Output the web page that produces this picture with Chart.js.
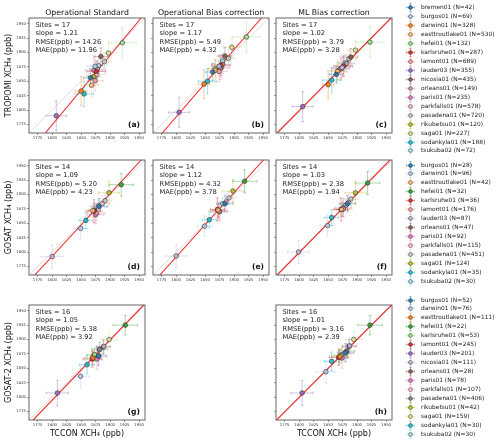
<!DOCTYPE html>
<html>
<head>
<meta charset="utf-8">
<script src="https://cdn.jsdelivr.net/npm/chart.js@4.4.1/dist/chart.umd.min.js"></script>
<style>
  body { margin: 0; background: #fff; width: 500px; height: 444px; overflow: hidden; position: relative; font-family: "DejaVu Sans", sans-serif; }
  canvas.panel { position: absolute; }
  .leg { position: absolute; left: 404px; top: 0; font-size: 5.9px; color: #222; white-space: nowrap; }
  .leg div { position: absolute; left: 0; height: 9px; line-height: 9px; }
  .leg svg { position: absolute; left: 0; top: 0; }
  .leg span { position: absolute; left: 17px; top: 0; }
</style>
</head>
<body>
<div id="root"></div>
<script>
// axis ticks (ppb)
const tickVals = [1775, 1800, 1825, 1850, 1875, 1900, 1925, 1950];
const axisMin = 1760, axisMax = 1960;

// --- row 1: TROPOMI ---
const row1Sites = ['bremen01', 'burgos01', 'darwin01', 'easttroutlake01', 'hefei01', 'karlsruhe01', 'lamont01', 'lauder03', 'nicosia01', 'orleans01', 'paris01', 'parkfalls01', 'pasadena01', 'rikubetsu01', 'saga01', 'sodankyla01', 'tsukuba02'];
const row1N = [42, 69, 328, 530, 132, 287, 689, 355, 435, 149, 235, 578, 720, 120, 227, 188, 72];
const row1Colors = ['#1f77b4', '#aec7e8', '#ff7f0e', '#ffbb78', '#98df8a', '#d62728', '#ff9896', '#9467bd', '#8c564b', '#c49c94', '#e377c2', '#f7b6d2', '#c7c7c7', '#bcbd22', '#dbdb8d', '#17becf', '#9edae5'];
const row1XErr = [12, 14, 10, 12, 24, 16, 14, 18, 12, 14, 15, 14, 12, 12, 14, 16, 14];
const row1YErr = [15, 18, 25, 20, 27, 18, 18, 26, 15, 15, 20, 18, 15, 15, 18, 22, 15];
const aX = [1866, 1874, 1850, 1868, 1921, 1876, 1874, 1807, 1884, 1878, 1872, 1877, 1890, 1872, 1897, 1855, 1880];
const aY = [1856, 1876, 1833, 1843, 1917, 1867, 1851, 1790, 1893, 1871, 1869, 1862, 1884, 1858, 1899, 1828, 1877];
const bX = [1863, 1874, 1848, 1867, 1921, 1877, 1874, 1805, 1884, 1880, 1876, 1878, 1890, 1868, 1896, 1854, 1880];
const bY = [1866, 1876, 1845, 1869, 1927, 1878, 1867, 1796, 1894, 1879, 1873, 1874, 1890, 1872, 1909, 1850, 1885];
const cX = [1864, 1874, 1850, 1866, 1922, 1876, 1873, 1806, 1889, 1882, 1871, 1878, 1886, 1867, 1897, 1856, 1879];
const cY = [1862, 1874, 1844, 1867, 1918, 1876, 1872, 1806, 1892, 1881, 1872, 1878, 1889, 1868, 1904, 1852, 1882];

// --- row 2: GOSAT ---
const row2Sites = ['burgos01', 'darwin01', 'easttroutlake01', 'hefei01', 'karlsruhe01', 'lamont01', 'lauder03', 'orleans01', 'paris01', 'parkfalls01', 'pasadena01', 'saga01', 'sodankyla01', 'tsukuba02'];
const row2N = [28, 96, 42, 32, 36, 176, 87, 47, 92, 115, 451, 124, 35, 30];
const row2Colors = ['#1f77b4', '#aec7e8', '#ffbb78', '#2ca02c', '#d62728', '#ff9896', '#c5b0d5', '#8c564b', '#e377c2', '#f7b6d2', '#c7c7c7', '#bcbd22', '#17becf', '#9edae5'];
const row2XErr = [14, 13, 14, 21, 12, 15, 19, 10, 14, 12, 12, 18, 12, 10];
const row2YErr = [14, 18, 12, 20, 20, 14, 20, 12, 16, 14, 12, 20, 14, 10];
const dX = [1881, 1849, 1870, 1919, 1872, 1876, 1800, 1873, 1875, 1886, 1891, 1898, 1858, 1880];
const dY = [1879, 1841, 1872, 1917, 1871, 1868, 1792, 1873, 1865, 1884, 1889, 1903, 1855, 1881];
const eX = [1884, 1849, 1872, 1918, 1871, 1874, 1800, 1873, 1875, 1886, 1891, 1898, 1857, 1880];
const eY = [1884, 1845, 1873, 1923, 1874, 1871, 1793, 1872, 1870, 1887, 1894, 1906, 1856, 1884];
const fX = [1883, 1849, 1873, 1918, 1872, 1876, 1799, 1874, 1876, 1885, 1889, 1897, 1856, 1880];
const fY = [1884, 1846, 1874, 1920, 1874, 1875, 1800, 1874, 1877, 1886, 1892, 1903, 1860, 1881];

// --- row 3: GOSAT-2 ---
const row3Sites = ['burgos01', 'darwin01', 'easttroutlake01', 'hefei01', 'karlsruhe01', 'lamont01', 'lauder03', 'nicosia01', 'orleans01', 'paris01', 'parkfalls01', 'pasadena01', 'rikubetsu01', 'saga01', 'sodankyla01', 'tsukuba02'];
const row3N = [52, 76, 111, 22, 53, 245, 201, 111, 28, 78, 107, 406, 42, 159, 30, 30];
const row3Colors = ['#1f77b4', '#aec7e8', '#ff7f0e', '#2ca02c', '#98df8a', '#d62728', '#9467bd', '#c5b0d5', '#8c564b', '#e377c2', '#f7b6d2', '#7f7f7f', '#bcbd22', '#dbdb8d', '#17becf', '#9edae5'];
const row3XErr = [14, 16, 14, 21, 14, 16, 19, 12, 12, 10, 12, 14, 12, 14, 13, 10];
const row3YErr = [16, 20, 12, 17, 12, 14, 22, 14, 12, 18, 14, 12, 10, 14, 16, 10];
const gX = [1880, 1849, 1870, 1926, 1873, 1869, 1809, 1889, 1888, 1877, 1880, 1882, 1872, 1898, 1860, 1881];
const gY = [1871, 1836, 1868, 1925, 1874, 1866, 1807, 1888, 1887, 1866, 1872, 1883, 1873, 1900, 1856, 1882];
const hX = [1880, 1846, 1870, 1922, 1872, 1868, 1805, 1887, 1886, 1874, 1878, 1882, 1872, 1894, 1856, 1880];
const hY = [1877, 1844, 1870, 1925, 1872, 1869, 1807, 1889, 1888, 1868, 1876, 1880, 1873, 1900, 1862, 1878];

// per panel statistics (a..h)
const panelLetters = ['(a)', '(b)', '(c)', '(d)', '(e)', '(f)', '(g)', '(h)'];
const siteCounts = [17, 17, 17, 14, 14, 14, 16, 16];
const slopes = [1.21, 1.17, 1.02, 1.09, 1.12, 1.03, 1.05, 1.01];
const rmse = ['14.26', '5.49', '3.79', '5.20', '4.32', '2.38', '5.38', '3.16'];
const mae = ['11.96', '4.32', '3.28', '4.23', '3.78', '1.94', '3.92', '2.39'];
const fitYat1870 = [1859, 1870, 1870, 1869, 1870, 1871, 1868, 1870];

const colTitles = ['Operational Standard', 'Operational Bias correction', 'ML Bias correction'];
const rowTitles = ['TROPOMI XCH\u2084 (ppb)', 'GOSAT XCH\u2084 (ppb)', 'GOSAT-2 XCH\u2084 (ppb)'];
const xTitle = 'TCCON XCH\u2084 (ppb)';

const rows = [
  { sites: row1Sites, n: row1N, colors: row1Colors, xErr: row1XErr, yErr: row1YErr },
  { sites: row2Sites, n: row2N, colors: row2Colors, xErr: row2XErr, yErr: row2YErr },
  { sites: row3Sites, n: row3N, colors: row3Colors, xErr: row3XErr, yErr: row3YErr }
];

// layout (pixels)
const colLeft = [29, 153, 276];
const rowTop = [18, 160, 305];
const plotW = 116, plotH = 115, padTop = 18, axisW = 29;
const legendStart = [7.3, 165, 300];
const legendStep = 8.98;

const panels = [
  { row: 0, col: 0, xs: aX, ys: aY },
  { row: 0, col: 1, xs: bX, ys: bY },
  { row: 0, col: 2, xs: cX, ys: cY },
  { row: 1, col: 0, xs: dX, ys: dY },
  { row: 1, col: 1, xs: eX, ys: eY },
  { row: 1, col: 2, xs: fX, ys: fY },
  { row: 2, col: 0, xs: gX, ys: gY },
  { row: 2, col: 2, xs: hX, ys: hY }
];

function withAlpha(hex, a) {
  const v = parseInt(hex.slice(1), 16);
  return `rgba(${(v >> 16) & 255},${(v >> 8) & 255},${v & 255},${a})`;
}

const errorBars = {
  id: 'errorBars',
  beforeDatasetsDraw(chart) {
    const { ctx, scales: { x, y } } = chart;
    ctx.save();
    ctx.lineWidth = 0.9;
    chart.data.datasets.forEach(ds => {
      if (ds.xErr === undefined) return;
      const p = ds.data[0];
      const px = x.getPixelForValue(p.x), py = y.getPixelForValue(p.y);
      const x0 = x.getPixelForValue(p.x - ds.xErr), x1 = x.getPixelForValue(p.x + ds.xErr);
      const y0 = y.getPixelForValue(p.y - ds.yErr), y1 = y.getPixelForValue(p.y + ds.yErr);
      ctx.strokeStyle = withAlpha(ds.siteColor, 0.45);
      ctx.beginPath();
      ctx.moveTo(x0, py); ctx.lineTo(x1, py);
      ctx.moveTo(px, y0); ctx.lineTo(px, y1);
      ctx.moveTo(x0, py - 1.3); ctx.lineTo(x0, py + 1.3);
      ctx.moveTo(x1, py - 1.3); ctx.lineTo(x1, py + 1.3);
      ctx.moveTo(px - 1.3, y0); ctx.lineTo(px + 1.3, y0);
      ctx.moveTo(px - 1.3, y1); ctx.lineTo(px + 1.3, y1);
      ctx.stroke();
    });
    ctx.restore();
  }
};

const panelText = {
  id: 'panelText',
  afterDraw(chart, args, opts) {
    const { ctx, chartArea: a } = chart;
    ctx.save();
    ctx.strokeStyle = '#555';
    ctx.lineWidth = 0.9;
    ctx.strokeRect(a.left, a.top, a.right - a.left, a.bottom - a.top);
    ctx.fillStyle = '#111';
    ctx.textBaseline = 'middle';
    if (opts.title) {
      ctx.font = '7.8px "DejaVu Sans"';
      ctx.textAlign = 'center';
      ctx.fillText(opts.title, (a.left + a.right) / 2, a.top - 5.5);
    }
    ctx.font = '6.7px "DejaVu Sans"';
    ctx.textAlign = 'left';
    ctx.fillStyle = '#222';
    opts.stats.forEach((s, i) => ctx.fillText(s, a.left + 6.5, a.top + 7 + i * 8.55));
    ctx.font = 'bold 7.6px "DejaVu Sans"';
    ctx.textAlign = 'right';
    ctx.fillStyle = '#111';
    ctx.fillText(opts.letter, a.right - 5, a.bottom - 7.5);
    ctx.font = '8px "DejaVu Sans"';
    ctx.textAlign = 'center';
    if (opts.yTitle) {
      ctx.save();
      ctx.translate(8.5, (a.top + a.bottom) / 2);
      ctx.rotate(-Math.PI / 2);
      ctx.fillText(opts.yTitle, 0, 0);
      ctx.restore();
    }
    if (opts.xTitle) ctx.fillText(opts.xTitle, (a.left + a.right) / 2, opts.xTitleY);
    ctx.restore();
  }
};

const root = document.getElementById('root');

panels.forEach((p, k) => {
  const r = rows[p.row];
  const left = colLeft[p.col] - axisW;
  const top = rowTop[p.row] - padTop;
  const width = axisW + plotW + 6;
  const height = p.row === 2 ? 444 - top : padTop + plotH + 12;
  const cv = document.createElement('canvas');
  cv.className = 'panel';
  cv.width = width; cv.height = height;
  cv.style.left = left + 'px'; cv.style.top = top + 'px';
  cv.style.width = width + 'px'; cv.style.height = height + 'px';
  root.appendChild(cv);

  const datasets = r.sites.map((s, i) => ({
    label: s,
    data: [{ x: p.xs[i], y: p.ys[i] }],
    siteColor: r.colors[i],
    xErr: r.xErr[i],
    yErr: r.yErr[i],
    backgroundColor: withAlpha(r.colors[i], 0.9),
    borderColor: '#333',
    borderWidth: 0.6,
    pointRadius: 2.3,
    order: 0
  }));

  // fitted line, clipped to the axes box
  const s = slopes[k], y0 = fitYat1870[k];
  const xLo = Math.max(axisMin, 1870 + (axisMin - y0) / s);
  const xHi = Math.min(axisMax, 1870 + (axisMax - y0) / s);
  datasets.push({
    data: [{ x: xLo, y: y0 + s * (xLo - 1870) }, { x: xHi, y: y0 + s * (xHi - 1870) }],
    showLine: true, borderColor: 'rgba(240,20,20,0.9)', borderWidth: 1.1, pointRadius: 0, order: 1
  });
  datasets.push({
    data: [{ x: axisMin, y: axisMin }, { x: axisMax, y: axisMax }],
    showLine: true, borderColor: '#c8c8c8', borderWidth: 0.6, pointRadius: 0, order: 2
  });

  const tickFont = { size: 3.8, family: 'DejaVu Sans' };
  const xAxisH = height - padTop - plotH;
  new Chart(cv, {
    type: 'scatter',
    data: { datasets },
    options: {
      responsive: false,
      animation: false,
      events: [],
      layout: { padding: { top: padTop, right: 6, left: 0, bottom: 0 } },
      plugins: {
        legend: { display: false },
        tooltip: { enabled: false },
        panelText: {
          title: p.row === 0 ? colTitles[p.col] : '',
          stats: ['Sites = ' + siteCounts[k], 'slope = ' + slopes[k].toFixed(2), 'RMSE(ppb) = ' + rmse[k], 'MAE(ppb) = ' + mae[k]],
          letter: panelLetters[k],
          yTitle: p.col === 0 ? rowTitles[p.row] : '',
          xTitle: p.row === 2 ? xTitle : '',
          xTitleY: 434 - top
        }
      },
      scales: {
        x: {
          type: 'linear', min: axisMin, max: axisMax,
          afterBuildTicks: sc => { sc.ticks = tickVals.map(v => ({ value: v })); },
          afterFit: sc => { sc.height = xAxisH; },
          ticks: { font: tickFont, color: '#333', padding: 0.5, maxRotation: 0, autoSkip: false, callback: v => String(v) },
          grid: { drawOnChartArea: false, drawTicks: true, tickLength: 2, color: '#555', lineWidth: 0.6 },
          border: { display: false }
        },
        y: {
          type: 'linear', min: axisMin, max: axisMax,
          afterBuildTicks: sc => { sc.ticks = tickVals.map(v => ({ value: v })); },
          afterFit: sc => { sc.width = axisW; },
          ticks: { display: p.col === 0, font: tickFont, color: '#333', padding: 1, autoSkip: false, callback: v => String(v) },
          grid: { drawOnChartArea: false, drawTicks: true, tickLength: 2, color: '#555', lineWidth: 0.6 },
          border: { display: false }
        }
      }
    },
    plugins: [errorBars, panelText]
  });
});

// legends, one per row
function marker(color) {
  const c = withAlpha(color, 0.55);
  return `<svg width="13" height="9" viewBox="0 0 13 9">
    <line x1="2.5" y1="4.5" x2="10.5" y2="4.5" stroke="${c}" stroke-width="0.9"/>
    <line x1="6.5" y1="0.5" x2="6.5" y2="8.5" stroke="${c}" stroke-width="0.9"/>
    <line x1="2.5" y1="3.3" x2="2.5" y2="5.7" stroke="${c}" stroke-width="0.8"/>
    <line x1="10.5" y1="3.3" x2="10.5" y2="5.7" stroke="${c}" stroke-width="0.8"/>
    <line x1="5.3" y1="0.5" x2="7.7" y2="0.5" stroke="${c}" stroke-width="0.8"/>
    <line x1="5.3" y1="8.5" x2="7.7" y2="8.5" stroke="${c}" stroke-width="0.8"/>
    <circle cx="6.5" cy="4.5" r="2" fill="${withAlpha(color, 0.9)}" stroke="#333" stroke-width="0.5"/>
  </svg>`;
}

rows.forEach((r, ri) => {
  const box = document.createElement('div');
  box.className = 'leg';
  r.sites.forEach((s, i) => {
    const d = document.createElement('div');
    d.style.top = (legendStart[ri] + i * legendStep - 4.5) + 'px';
    d.innerHTML = marker(r.colors[i]) + `<span>${s} (N=${r.n[i]})</span>`;
    box.appendChild(d);
  });
  document.body.appendChild(box);
});
</script>
</body>
</html>
